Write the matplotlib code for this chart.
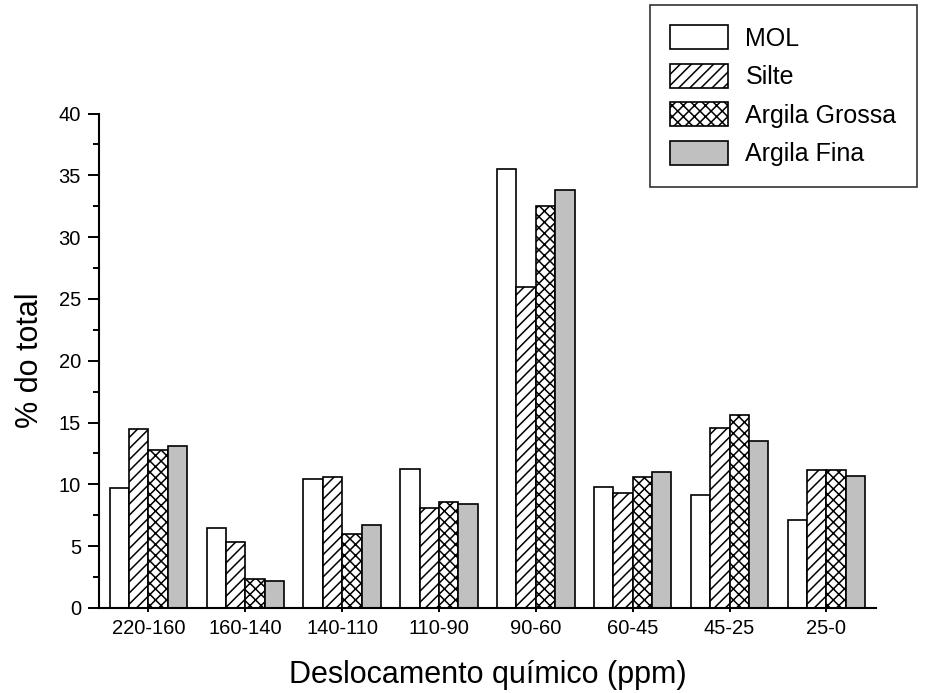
import numpy as np
import matplotlib
matplotlib.use('Agg')
import matplotlib.pyplot as plt

plt.rcParams['font.family'] = ['Liberation Sans', 'DejaVu Sans']
plt.rcParams['hatch.linewidth'] = 1.1

# faixas de deslocamento quimico
faixas = ['220-160', '160-140', '140-110', '110-90', '90-60', '60-45', '45-25', '25-0']
mol = [9.7, 6.5, 10.4, 11.25, 35.5, 9.8, 9.1, 7.1]
silte = [14.5, 5.35, 10.6, 8.1, 26.0, 9.3, 14.55, 11.15]
argila_grossa = [12.75, 2.35, 6.0, 8.6, 32.5, 10.6, 15.6, 11.2]
argila_fina = [13.1, 2.2, 6.7, 8.45, 33.8, 11.0, 13.5, 10.7]

fig = plt.figure(figsize=(9.37, 6.93), dpi=100)
ax = fig.add_axes([0.1057, 0.1227, 0.829, 0.7135])

x = np.arange(len(faixas))
w = 0.2
series = [
    (mol, 'MOL', 'white', ''),
    (silte, 'Silte', 'white', '///'),
    (argila_grossa, 'Argila Grossa', 'white', 'xxx'),
    (argila_fina, 'Argila Fina', '#c0c0c0', ''),
]
for i, (vals, nome, cor, hatch) in enumerate(series):
    ax.bar(x + (i - 1.5) * w, vals, w, color=cor, edgecolor='black',
           linewidth=1.2, hatch=hatch, label=nome)

ax.set_xlim(-0.51, 7.51)
ax.set_ylim(0, 40)
ax.set_xticks(x)
ax.set_xticklabels(faixas, fontsize=14.5)
ax.set_yticks(np.arange(0, 41, 5))
ax.set_yticks(np.arange(0, 41, 2.5), minor=True)
ax.tick_params(axis='y', labelsize=14.5, width=1.4, length=8, pad=5)
ax.tick_params(axis='y', which='minor', width=1.4, length=4.5)
ax.tick_params(axis='x', width=1.4, length=3, pad=5)
ax.spines['top'].set_visible(False)
ax.spines['right'].set_visible(False)
ax.spines['left'].set_linewidth(1.5)
ax.spines['bottom'].set_linewidth(1.5)

ax.set_ylabel('% do total', fontsize=22, labelpad=10)
ax.set_xlabel('Deslocamento químico (ppm)', fontsize=22, labelpad=16)

leg = fig.legend(loc='upper left', bbox_to_anchor=(0.6937, 0.993), fontsize=18,
                 frameon=True, fancybox=False, edgecolor='black',
                 handlelength=2.3, handleheight=1.1, labelspacing=0.52,
                 borderpad=0.82, handletextpad=0.7, borderaxespad=0)
leg.get_frame().set_linewidth(1.2)

fig.savefig('out.png', dpi=100)
